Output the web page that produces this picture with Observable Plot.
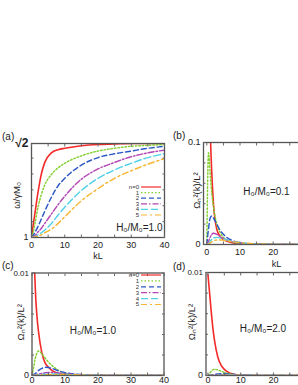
<!DOCTYPE html>
<html><head><meta charset="utf-8">
<script src="https://cdn.jsdelivr.net/npm/d3@7"></script>
<script src="https://cdn.jsdelivr.net/npm/@observablehq/plot@0.6"></script>
<style>
html,body{margin:0;padding:0;width:298px;height:385px;overflow:hidden;background:#fff;font-family:"Liberation Sans",Arial,sans-serif;}
#wrap{position:relative;width:298px;height:385px;overflow:hidden;}
.panel{position:absolute;overflow:visible;}
.plabel{position:absolute;font-size:10px;color:#222;line-height:1;}
.legend{position:absolute;overflow:visible;}
</style></head><body><div id="wrap"></div>
<script>
// ---- data ----
const seriesNames = ["n=0", "1", "2", "3", "4", "5"];
const colors = ["#f42a2a", "#82cf2f", "#2c58c6", "#b346b3", "#52d0e6", "#f7b531"];
const dashes = [null, "1.5,2", "5,3", "6,2,1.5,2", "7,3", "6,3,2,3"];

// panel (a): omega / gamma M0 vs kL, H0/M0 = 1.0
const kA = [0, 0.5, 1, 2, 3, 4, 6, 8, 10, 15, 20, 25, 30, 35, 40];
const a0 = [1.000, 1.054, 1.104, 1.203, 1.282, 1.331, 1.373, 1.387, 1.393, 1.404, 1.410, 1.412, 1.414, 1.414, 1.414];
const a1 = [1.000, 1.021, 1.058, 1.137, 1.191, 1.232, 1.278, 1.307, 1.327, 1.360, 1.381, 1.393, 1.402, 1.406, 1.410];
const a2 = [1.000, 1.008, 1.021, 1.050, 1.083, 1.116, 1.178, 1.228, 1.261, 1.319, 1.352, 1.369, 1.381, 1.393, 1.402];
const a3 = [1.000, 1.004, 1.008, 1.025, 1.041, 1.062, 1.104, 1.145, 1.182, 1.257, 1.302, 1.331, 1.356, 1.373, 1.385];
const a4 = [1.000, 1.002, 1.004, 1.012, 1.021, 1.033, 1.062, 1.099, 1.133, 1.207, 1.261, 1.298, 1.327, 1.352, 1.369];
const a5 = [1.000, 1.001, 1.002, 1.006, 1.012, 1.021, 1.037, 1.062, 1.091, 1.162, 1.215, 1.261, 1.294, 1.323, 1.348];

// panels (b)-(d): Omega_n^2(k)/L^2 vs kL
const kG = [0, 0.5, 1, 1.5, 2, 3, 4, 5, 6, 8, 10, 12, 15, 20, 25, 30, 35, 40];
// (b) H0/M0 = 0.1
const b0 = [0.40, 0.25, 0.12, 0.07, 0.040, 0.015, 0.008, 0.005, 0.0033, 0.0015, 0.0007, 0.0004, 0.0002, 0.00005, 0, 0, 0, 0];
const b1 = [0, 0.090, 0.070, 0.050, 0.037, 0.020, 0.012, 0.007, 0.0045, 0.002, 0.001, 0.0005, 0.0002, 0.00005, 0, 0, 0, 0];
const b2 = [0, 0.015, 0.026, 0.028, 0.026, 0.020, 0.014, 0.010, 0.007, 0.0035, 0.0018, 0.001, 0.0004, 0.0001, 0, 0, 0, 0];
const b3 = [0, 0.003, 0.007, 0.010, 0.011, 0.010, 0.008, 0.006, 0.0045, 0.0025, 0.0014, 0.0008, 0.0004, 0.0001, 0, 0, 0, 0];
const b4 = [0, 0.001, 0.003, 0.005, 0.0065, 0.007, 0.0065, 0.0055, 0.0045, 0.0028, 0.0017, 0.001, 0.0005, 0.00015, 0, 0, 0, 0];
const b5 = [0, 0.0005, 0.0015, 0.0025, 0.0035, 0.0045, 0.0045, 0.0042, 0.0037, 0.0026, 0.0018, 0.0012, 0.0006, 0.0002, 0.00005, 0, 0, 0];
// (c) H0/M0 = 1.0
const c0 = [0.05, 0.015, 0.0085, 0.0058, 0.0042, 0.0022, 0.0012, 0.0008, 0.0005, 0.0002, 0.0001, 0.00005, 0.00002, 0, 0, 0, 0, 0];
const c1 = [0, 0.0008, 0.0017, 0.0022, 0.0024, 0.0021, 0.0017, 0.0013, 0.0010, 0.0005, 0.00025, 0.00012, 0.00005, 0, 0, 0, 0, 0];
const c2 = [0, 0.0001, 0.0002, 0.00035, 0.0005, 0.0007, 0.0008, 0.00078, 0.0007, 0.00045, 0.00028, 0.00018, 0.0001, 0.00003, 0, 0, 0, 0];
const c3 = [0, 0.00002, 0.00005, 0.0001, 0.00014, 0.0002, 0.00026, 0.0003, 0.00029, 0.00024, 0.00017, 0.00012, 0.00007, 0.00003, 0, 0, 0, 0];
const c4 = [0, 0.00001, 0.00002, 0.00004, 0.00006, 0.0001, 0.00012, 0.00014, 0.00015, 0.00014, 0.00011, 0.00008, 0.00005, 0.00002, 0, 0, 0, 0];
const c5 = [0, 0, 0.00001, 0.00002, 0.00003, 0.00005, 0.00007, 0.00008, 0.00009, 0.0001, 0.00009, 0.00007, 0.00005, 0.00002, 0.00001, 0, 0, 0];
// (d) H0/M0 = 2.0
const d0 = [0.0098, 0.0080, 0.0062, 0.0046, 0.0034, 0.0018, 0.0010, 0.0006, 0.00035, 0.00012, 0.00004, 0.00001, 0, 0, 0, 0, 0, 0];
const d1 = [0, 0.0002, 0.0004, 0.00055, 0.0006, 0.00055, 0.00042, 0.0003, 0.0002, 0.0001, 0.00004, 0.00002, 0, 0, 0, 0, 0, 0];
const d2 = [0, 0.00002, 0.00005, 0.00008, 0.0001, 0.00015, 0.00018, 0.00017, 0.00015, 0.0001, 0.00006, 0.00003, 0.00001, 0, 0, 0, 0, 0];
const d3 = [0, 0, 0.00001, 0.00002, 0.00003, 0.00005, 0.00007, 0.00008, 0.00008, 0.00007, 0.00005, 0.00003, 0.00001, 0, 0, 0, 0, 0];
const d4 = [0, 0, 0, 0.00001, 0.00001, 0.00002, 0.00003, 0.00004, 0.00004, 0.00004, 0.00003, 0.00002, 0.00001, 0, 0, 0, 0, 0];
const d5 = [0, 0, 0, 0, 0.00001, 0.00001, 0.00002, 0.00002, 0.00002, 0.00002, 0.00002, 0.00001, 0.00001, 0, 0, 0, 0, 0];

const xTickValues = [0, 10, 20, 30, 40];
const xTickLabels = ["0", "10", "20", "30", "40"];

// ---- helpers ----
const FONT = '"Liberation Sans", Arial, sans-serif';
const SVGNS = "http://www.w3.org/2000/svg";
const wrap = document.getElementById("wrap");

function rowsFor(k, arrays) {
  return arrays.map((vals, i) => k.map((kk, j) => ({k: kk, v: vals[j], n: seriesNames[i]})));
}

function panel(cfg) {
  const groups = rowsFor(cfg.k, cfg.values);
  const marks = [];
  groups.forEach((rows, i) => {
    marks.push(Plot.line(rows, {
      x: "k", y: "v", stroke: colors[i], strokeWidth: i === 0 ? 1.6 : 1.45,
      strokeDasharray: dashes[i] || undefined, curve: "monotone-x", clip: true
    }));
  });
  marks.push(Plot.frame({stroke: "#555", strokeWidth: 1.3}));
  const nx = cfg.nxLabels || xTickValues.length;
  marks.push(Plot.axisX({anchor: "bottom", ticks: xTickValues.slice(0, nx), tickSize: 0, tickPadding: cfg.xPad || 4,
    tickFormat: (d, i) => xTickLabels[i], fontSize: 9, fill: "#222",
    label: cfg.xLabel, labelAnchor: "center", labelArrow: "none", labelOffset: cfg.xLabelOffset || 22}));
  marks.push(Plot.axisX({anchor: "bottom", ticks: cfg.xMinor, tickSize: -2.5, text: null, label: null, stroke: "#666"}));
  marks.push(Plot.axisX({anchor: "top", ticks: cfg.xMinor, tickSize: -2.5, text: null, label: null, stroke: "#666"}));
  marks.push(Plot.axisY({anchor: "left", ticks: cfg.yMinor, tickSize: -2.5, text: null, label: null, stroke: "#666"}));
  marks.push(Plot.axisY({anchor: "right", ticks: cfg.yMinor, tickSize: -2.5, text: null, label: null, stroke: "#666"}));
  cfg.yTicks.forEach((t, i) => {
    marks.push(Plot.axisY({anchor: "left", ticks: [t], tickSize: 0, tickPadding: 3,
      tickFormat: () => cfg.yTickLabels[i], fontSize: cfg.yTickSizes[i], fill: "#222",
      fontWeight: cfg.yTickWeights ? cfg.yTickWeights[i] : "normal", label: null}));
  });
  // rotated y-axis title
  marks.push(Plot.text([cfg.yLabel], {text: d => d, frameAnchor: "left", dx: cfg.yLabelDx, dy: cfg.yLabelDy || 0,
    rotate: -90, textAnchor: "middle", fontSize: 9.5, fill: "#222"}));
  marks.push(Plot.text([cfg.note], {text: d => d, frameAnchor: cfg.noteAnchor, dx: cfg.noteDx, dy: cfg.noteDy,
    textAnchor: cfg.noteTextAnchor || "middle", fontSize: 10, fill: "#222"}));

  const svg = Plot.plot({
    width: cfg.width, height: cfg.height,
    marginLeft: cfg.ml, marginRight: cfg.mr, marginTop: cfg.mt, marginBottom: cfg.mb,
    x: {domain: cfg.xDomain},
    y: {domain: cfg.yDomain},
    style: {fontFamily: FONT, background: "transparent", overflow: "visible", color: "#222"},
    marks
  });
  svg.classList.add("panel");
  svg.style.left = cfg.left + "px";
  svg.style.top = cfg.top + "px";
  wrap.appendChild(svg);
}

function label(text, x, y) {
  const d = document.createElement("div");
  d.className = "plabel";
  d.textContent = text;
  d.style.left = x + "px";
  d.style.top = y + "px";
  wrap.appendChild(d);
}

function el(tag, attrs) {
  const e = document.createElementNS(SVGNS, tag);
  for (const [k, v] of Object.entries(attrs)) if (v != null) e.setAttribute(k, v);
  return e;
}

function legend(x, y, rowH) {
  const svg = el("svg", {class: "legend", width: 42, height: 40});
  svg.style.left = (x - 20) + "px";
  svg.style.top = y + "px";
  seriesNames.forEach((s, i) => {
    const yy = 3 + i * rowH;
    const t = el("text", {x: 19, y: yy, dy: "0.32em", "text-anchor": "end", "font-size": 6,
      "font-family": FONT, fill: "#333"});
    t.textContent = s;
    svg.appendChild(t);
    svg.appendChild(el("line", {x1: 21, x2: 41, y1: yy, y2: yy, stroke: colors[i], "stroke-width": 1.2,
      "stroke-dasharray": dashes[i]}));
  });
  wrap.appendChild(svg);
}

const yMinorA = [1, 1.07, 1.14, 1.21, 1.28, 1.35];
const xMinor = [0, 5, 10, 15, 20, 25, 30, 35, 40];

panel({
  k: kA, values: [a0, a1, a2, a3, a4, a5],
  left: 0, top: 130, width: 170, height: 132, ml: 31, mr: 6, mt: 13, mb: 25,
  xDomain: [0, 40], yDomain: [1, Math.SQRT2], xMinor, yMinor: yMinorA,
  yTicks: [1, Math.SQRT2], yTickLabels: ["1", "√2"], yTickSizes: [9, 12], yTickWeights: ["normal", "bold"],
  xLabel: "kL", xLabelOffset: 21, yLabel: "ω/γM₀", yLabelDx: -14.5, yLabelDy: 5,
  note: "H₀/M₀=1.0", noteAnchor: "bottom-right", noteDx: -2, noteDy: -7, noteTextAnchor: "end"
});

panel({
  k: kG, values: [b0, b1, b2, b3, b4, b5],
  left: 150, top: 130, width: 215, height: 140, ml: 53, mr: 16, mt: 12, mb: 26,
  xDomain: [-1, 43], yDomain: [0, 0.1], xMinor, yMinor: [0, 0.02, 0.04, 0.06, 0.08, 0.1],
  yTicks: [0, 0.1], yTickLabels: ["0", "0.1"], yTickSizes: [9, 9], nxLabels: 3,
  xLabel: "kL", xLabelOffset: 22, yLabel: "Ωₙ²(k)/L²", yLabelDx: -7, yLabelDy: -3,
  note: "H₀/M₀=0.1", noteAnchor: "middle", noteDx: -10, noteDy: -2
});

panel({
  k: kG, values: [c0, c1, c2, c3, c4, c5],
  left: 0, top: 260, width: 170, height: 125, ml: 31.5, mr: 6.5, mt: 12.5, mb: 10,
  xDomain: [0, 40], yDomain: [0, 0.01], xMinor, yMinor: [0, 0.002, 0.004, 0.006, 0.008, 0.01],
  yTicks: [0, 0.01], yTickLabels: ["0", "0.01"], yTickSizes: [9, 8], xPad: 1.5,
  xLabel: null, yLabel: "Ωₙ²(k)/L²", yLabelDx: -11.5, yLabelDy: -2,
  note: "H₀/M₀=1.0", noteAnchor: "middle", noteDx: -5, noteDy: 7
});

panel({
  k: kG, values: [d0, d1, d2, d3, d4, d5],
  left: 150, top: 260, width: 215, height: 125, ml: 55.5, mr: 13.5, mt: 12, mb: 10,
  xDomain: [-0.6, 44], yDomain: [0, 0.01], xMinor, yMinor: [0, 0.002, 0.004, 0.006, 0.008, 0.01],
  yTicks: [0, 0.01], yTickLabels: ["0", "0.01"], yTickSizes: [9, 8], nxLabels: 3, xPad: 1.5,
  xLabel: null, yLabel: "Ωₙ²(k)/L²", yLabelDx: -14.5, yLabelDy: -2,
  note: "H₀/M₀=2.0", noteAnchor: "middle", noteDx: -16, noteDy: 5
});

legend(140, 184, 5.6);
legend(140, 272, 5.9);

label("(a)", 2, 132);
label("(b)", 173, 131);
label("(c)", 2, 261);
label("(d)", 173, 262);
</script></body></html>
